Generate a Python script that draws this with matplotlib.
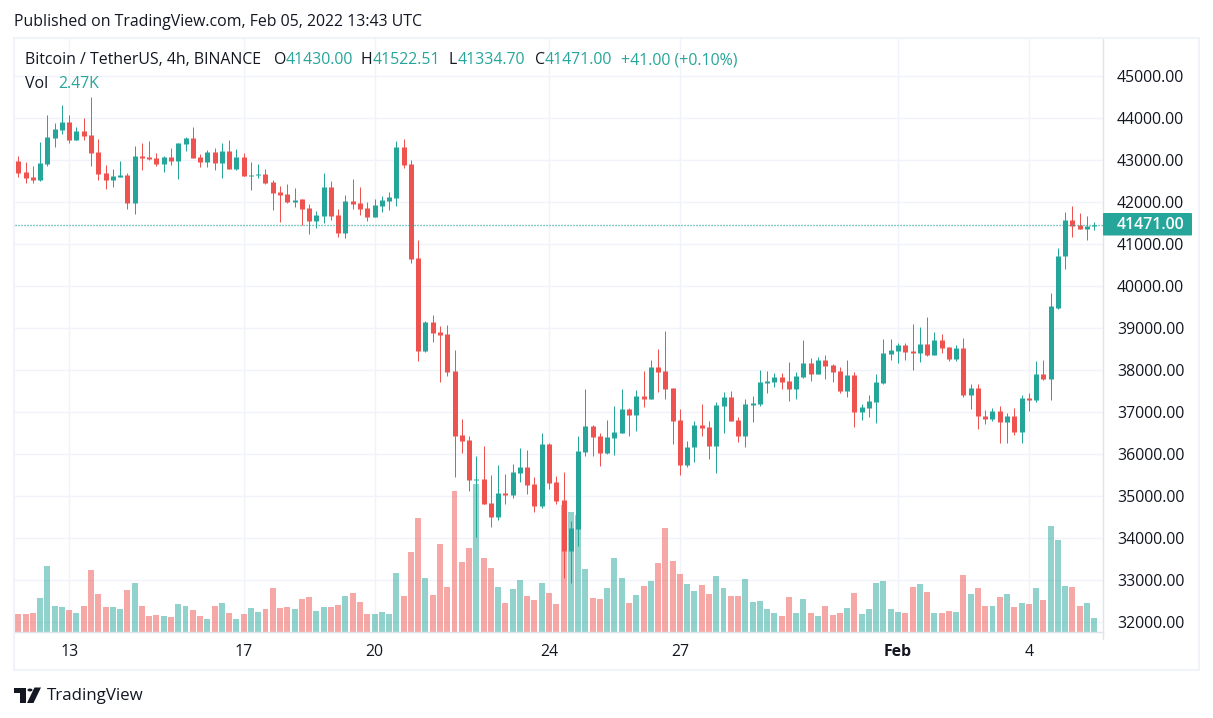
import numpy as np
import matplotlib
matplotlib.use("Agg")
import matplotlib.pyplot as plt
from matplotlib.patches import Rectangle, Polygon, Circle, FancyBboxPatch
from matplotlib.transforms import blended_transform_factory

plt.rcParams['font.family'] = ['Open Sans', 'DejaVu Sans']

# 4h candles
opens = [42980, 42720, 42600, 42530, 42910, 43530, 43720, 43910, 43480, 43700,
         43600, 43200, 42700, 42530, 42600, 42650, 41980, 43100, 43080, 43060,
         42910, 43080, 42980, 43390, 43530, 43080, 42960, 43200, 42940, 43220,
         42790, 43080, 42630, 42640, 42670, 42480, 42250, 42200, 42010, 42080,
         41860, 41560, 41680, 42370, 41700, 41270, 42030, 41980, 41860, 41650,
         41910, 42030, 42100, 43320, 42910, 40670, 38460, 39150, 38910, 38860,
         37980, 36460, 36340, 35390, 35410, 34840, 34510, 35080, 35030, 35560,
         35700, 35290, 34770, 36250, 35340, 34910, 33700, 34220, 36060, 36680,
         36440, 36030, 36390, 36510, 37080, 36940, 37390, 37320, 38080, 37980,
         37580, 36820, 35750, 36170, 36700, 36650, 36200, 37150, 37370, 36820,
         36440, 37170, 37200, 37700, 37720, 37840, 37750, 37560, 37840, 38180,
         37910, 38250, 38130, 37980, 37510, 37890, 37010, 37100, 37250, 37700,
         38390, 38460, 38600, 38460, 38410, 38630, 38370, 38710, 38560, 38280,
         38520, 37420, 37590, 36920, 36830, 37040, 36780, 36920, 36540, 37330,
         37300, 37900, 37800, 39490, 40710, 41590, 41470, 41370, 41430]
highs = [43100, 42960, 42870, 43440, 44080, 43890, 44320, 44080, 43790, 44010,
         44510, 43510, 42890, 42790, 42980, 42700, 43340, 43410, 43460, 43180,
         43100, 43290, 43410, 43560, 43790, 43150, 43250, 43290, 43410, 43480,
         43270, 43180, 42960, 42910, 42790, 42530, 42390, 42440, 42340, 42080,
         41960, 41790, 42700, 42510, 41840, 42170, 42560, 42370, 42010, 42080,
         42150, 42250, 43460, 43510, 43010, 41100, 39170, 39320, 39060, 39080,
         38480, 36840, 36440, 35960, 36200, 35510, 35750, 35530, 35770, 36150,
         36100, 35460, 36510, 36270, 35480, 35580, 34410, 36440, 37560, 36700,
         36510, 36820, 37150, 37560, 37100, 37530, 37980, 38250, 38510, 38940,
         37580, 37080, 36320, 36790, 37200, 36790, 37250, 37480, 37510, 36890,
         37320, 37390, 38010, 37980, 37940, 37940, 38200, 37960, 38720, 38290,
         38320, 38370, 38150, 38080, 38250, 37960, 37200, 37410, 37910, 38750,
         38750, 38650, 38650, 39100, 39030, 39280, 38900, 38870, 38560, 38610,
         38780, 37680, 37680, 37060, 37110, 37140, 36990, 37110, 37400, 37470,
         38230, 38250, 39830, 40900, 41780, 41920, 41750, 41680, 41522]
lows = [42600, 42460, 42460, 42510, 42870, 43320, 43630, 43410, 43480, 43480,
        42870, 42530, 42320, 42370, 42600, 41840, 41720, 42770, 43010, 42870,
        42720, 42890, 42560, 43220, 43060, 42840, 42840, 42770, 42580, 42790,
        42770, 42630, 42290, 42580, 42440, 41820, 41530, 41980, 41890, 41460,
        41250, 41390, 41510, 41580, 41170, 41150, 41840, 41700, 41560, 41650,
        41770, 41820, 41910, 42820, 40560, 38220, 38440, 38670, 37720, 37870,
        35460, 36030, 35130, 34030, 34820, 34270, 34440, 34820, 34960, 35340,
        35060, 34630, 34720, 35170, 34820, 33060, 32940, 33820, 35960, 35960,
        35720, 36010, 35980, 36510, 36440, 36560, 37130, 37320, 37480, 37320,
        36250, 35510, 35700, 35820, 36440, 35890, 35560, 36510, 36790, 36290,
        36170, 36770, 37150, 37460, 37600, 37560, 37270, 37320, 37820, 37750,
        37910, 37790, 37720, 37460, 37370, 36650, 36820, 36890, 36750, 37670,
        38250, 38180, 38250, 38010, 38200, 38350, 38370, 38400, 38210, 38230,
        37370, 37090, 36610, 36730, 36800, 36280, 36280, 36470, 36280, 37040,
        37250, 37780, 37300, 39470, 40400, 41180, 41370, 41110, 41334]
closes = [42700, 42580, 42530, 42940, 43560, 43750, 43910, 43480, 43700, 43580,
          43180, 42680, 42530, 42630, 42650, 41980, 43100, 43060, 43030, 42910,
          43080, 42980, 43410, 43530, 43060, 42960, 43200, 42940, 43220, 42790,
          43080, 42630, 42650, 42670, 42460, 42220, 42170, 42010, 42060, 41840,
          41560, 41700, 42370, 41680, 41270, 42030, 41960, 41840, 41650, 41940,
          42060, 42130, 43320, 42890, 40650, 38460, 39150, 38890, 38840, 37960,
          36440, 36320, 35390, 35410, 34820, 34510, 35080, 35030, 35580, 35700,
          35270, 34770, 36250, 35320, 34890, 33700, 34250, 36080, 36680, 36410,
          36030, 36410, 36530, 37080, 36940, 37390, 37320, 38080, 37960, 37560,
          36790, 35750, 36170, 36700, 36630, 36200, 37170, 37370, 36790, 36440,
          37200, 37220, 37720, 37750, 37840, 37720, 37560, 37870, 38180, 37910,
          38250, 38100, 37960, 37510, 37890, 37010, 37130, 37270, 37720, 38410,
          38480, 38600, 38440, 38410, 38630, 38370, 38710, 38540, 38280, 38520,
          37420, 37590, 36900, 36830, 37040, 36780, 36920, 36540, 37330, 37300,
          37900, 37800, 39520, 40730, 41590, 41440, 41370, 41440, 41471]
volumes = [3160, 3160, 3330, 5910, 11420, 4530, 4360, 3850, 3330, 4530,
           10730, 6600, 4360, 4360, 4020, 7290, 8500, 4530, 2810, 2980,
           2810, 2640, 4880, 4530, 3850, 2810, 2300, 4530, 5050, 3330,
           2300, 3160, 4190, 3500, 4020, 7630, 4190, 4360, 4020, 5740,
           6080, 3670, 4360, 4360, 4710, 6260, 6770, 5220, 3160, 3160,
           3500, 3160, 10220, 6260, 13830, 19690, 9360, 6430, 15210, 7810,
           24340, 12110, 14520, 25540, 12800, 11080, 7810, 5050, 7460, 9010,
           6260, 5570, 8500, 6770, 4880, 21930, 20720, 20200, 10910, 5910,
           5740, 7630, 12800, 9360, 5050, 6430, 7980, 8840, 11940, 17970,
           12280, 10050, 8320, 7120, 8150, 6600, 9700, 7630, 6260, 6260,
           9180, 5220, 5400, 4020, 3330, 2810, 6080, 3330, 5740, 3330,
           2810, 4530, 2980, 3330, 4190, 6770, 3160, 4020, 8500, 8840,
           4020, 3500, 3330, 7810, 8320, 6950, 3330, 3330, 3670, 3500,
           9870, 6600, 7630, 4530, 4530, 6080, 6600, 4360, 5050, 4880,
           7630, 5570, 18310, 15900, 7980, 7810, 4530, 5050, 2470]

price_ticks = [32000, 33000, 34000, 35000, 36000, 37000, 38000, 39000, 40000,
               41000, 42000, 43000, 44000, 45000]
day_idx = [7, 31, 49, 73, 91, 121, 139]
day_labels = ['13', '17', '20', '24', '27', 'Feb', '4']

W, H = 1213, 718
UP = '#26a69a'
DOWN = '#ef5350'
INK = '#131722'
GRID = '#f0f3fa'
AXIS = '#e0e3eb'
TEXT_SIZE = 11.4

fig = plt.figure(figsize=(W / 100, H / 100), dpi=100)
fig.patch.set_facecolor('white')


def fx(px):
    return px / W


def fy(py):
    return 1 - py / H


def label(px, py, s, color=INK, size=TEXT_SIZE, **kw):
    fig.text(fx(px), fy(py + 1.5), s, color=color, fontsize=size, va='center', **kw)


# pane in pixels: x 15-1103, y 39-632
ax = fig.add_axes([fx(15), fy(632), fx(1103 - 15), (632 - 39) / H])
ax.set_xlim(-0.454, 149.2)
ax.set_ylim(31769, 45888)
vol_top = 102100

x = np.arange(len(opens))
o = np.array(opens, dtype=float)
h = np.array(highs, dtype=float)
l = np.array(lows, dtype=float)
c = np.array(closes, dtype=float)
v = np.array(volumes, dtype=float)
colors = [UP if c[i] >= o[i] else DOWN for i in x]

# grid
ax.set_yticks(price_ticks)
ax.set_xticks(day_idx)
ax.grid(True, color=GRID, linewidth=1.0, zorder=0)
ax.set_axisbelow(True)

# volume sits in the same pane, scaled on its own
trans_vol = blended_transform_factory(ax.transData, ax.transAxes)
ax.bar(x, v / vol_top, width=0.82, color=colors, alpha=0.5, linewidth=0,
       transform=trans_vol, zorder=2)

# candles, bodies as thick lines so they all snap to the same 5px width
ax.vlines(x, l, h, colors=colors, linewidth=0.72, zorder=3)
ax.vlines(x, np.minimum(o, c), np.maximum(o, c), colors=colors, linewidth=3.6,
          capstyle='butt', zorder=4)

# last price line
ax.axhline(closes[-1], color=UP, linestyle=(0, (0.8, 1.36)), linewidth=1.0, zorder=5)

for side in ['top', 'left']:
    ax.spines[side].set_visible(False)
ax.spines['right'].set_color(AXIS)
ax.spines['bottom'].set_color(AXIS)
ax.spines['right'].set_linewidth(1.0)
ax.spines['bottom'].set_linewidth(1.0)

ax.yaxis.tick_right()
ax.set_yticklabels(['%.2f' % p for p in price_ticks], fontsize=TEXT_SIZE, color=INK)
ax.set_xticklabels(day_labels, fontsize=TEXT_SIZE, color=INK)
ax.tick_params(axis='y', length=0, pad=10)
ax.tick_params(axis='x', length=0, pad=8.5)
ax.get_xticklabels()[5].set_fontweight('bold')

# outer frame
fig.add_artist(Rectangle((fx(14), fy(670)), fx(1199 - 14), (670 - 38) / H,
                         fill=False, edgecolor=GRID, linewidth=1.5,
                         transform=fig.transFigure, zorder=6))
fig.add_artist(plt.Line2D([fx(1103), fx(1103)], [fy(632), fy(639)], color=AXIS,
                          linewidth=1.0, transform=fig.transFigure))

# last price tag
fig.add_artist(FancyBboxPatch((fx(1103), fy(235.5)), fx(89), 22.5 / H,
                              boxstyle='round,pad=0,rounding_size=0.001',
                              facecolor=UP, edgecolor='none',
                              transform=fig.transFigure, zorder=7))
fig.text(fx(1117), fy(225), '%.2f' % closes[-1], color='white', fontsize=TEXT_SIZE,
         fontweight='semibold', va='center', zorder=8)

# header and legend
label(14, 21, 'Published on TradingView.com, Feb 05, 2022 13:43 UTC')
label(25, 59, 'Bitcoin / TetherUS, 4h, BINANCE')
legend_bits = [(274, 'O', INK), (286, '41430.00', UP), (361, 'H', INK),
               (373, '41522.51', UP), (449, 'L', INK), (458, '41334.70', UP),
               (535, 'C', INK), (545, '41471.00', UP),
               (621, '+41.00 (+0.10%)', UP)]
for px, s, col in legend_bits:
    label(px, 59, s, color=col)
label(25, 83, 'Vol')
label(58, 83, '2.47K', color=UP)

# logo
logo = '#131722'
fig.add_artist(Polygon([(fx(14), fy(687.5)), (fx(25.5), fy(687.5)), (fx(25.5), fy(703)),
                        (fx(20), fy(703)), (fx(20), fy(692.5)), (fx(14), fy(692.5))],
                       closed=True, facecolor=logo, edgecolor='none',
                       transform=fig.transFigure))
fig.add_artist(Polygon([(fx(34.5), fy(687.5)), (fx(41), fy(687.5)), (fx(33.5), fy(703)),
                        (fx(27), fy(703))],
                       closed=True, facecolor=logo, edgecolor='none',
                       transform=fig.transFigure))
fig.add_artist(Circle((fx(30), fy(690)), fx(2.5), facecolor=logo, edgecolor='none',
                      transform=fig.transFigure))
label(47, 694, 'TradingView', size=12.2)

fig.savefig('out.png', dpi=100)
